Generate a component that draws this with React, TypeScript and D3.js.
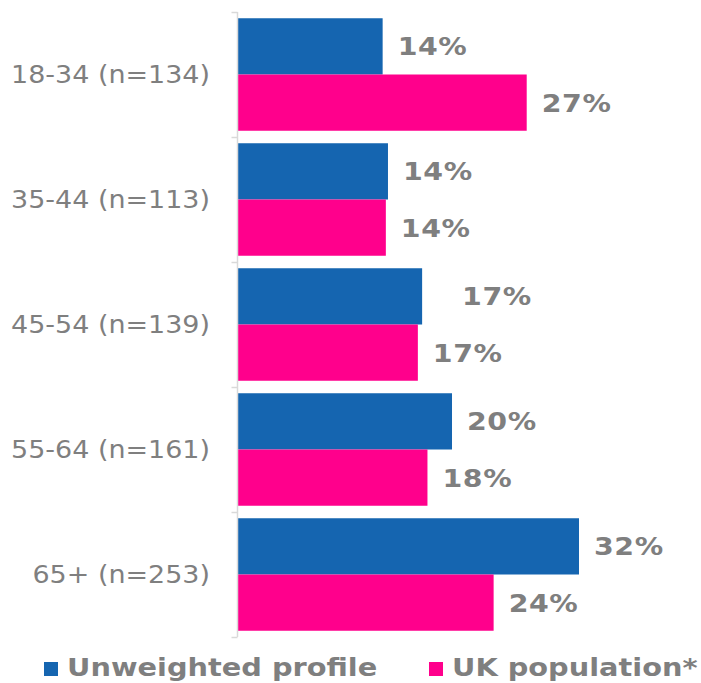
import { useEffect, useRef } from "react";
import * as d3 from "d3";

const CATEGORIES = ["18-34 (n=134)", "35-44 (n=113)", "45-54 (n=139)", "55-64 (n=161)", "65+ (n=253)"];
const SERIES = ["Unweighted profile", "UK population*"];
const UNWEIGHTED = [13.6, 14.1, 17.3, 20.1, 32.0];
const UK_POP = [27.1, 13.9, 16.9, 17.8, 24.0];

const COLORS = ["#1565B0", "#FF008C"];
const TEXT_GRAY = "#7f7f7f";
const AXIS_GRAY = "#d9d9d9";
const FONT = "'DejaVu Sans', sans-serif";

// Excel had one label dragged a bit further right
const LABEL_NUDGE: Record<string, number> = { "45-54 (n=139)|0": 25 };

const W = 701;
const H = 683;

export default function App() {
  const svgRef = useRef<SVGSVGElement>(null);

  useEffect(() => {
    const svg = d3.select(svgRef.current);
    svg.selectAll("*").remove();

    const axisX = 237.5;
    const x = d3.scaleLinear().domain([0, 32]).range([axisX, 579]);
    const y = d3
      .scaleBand<string>()
      .domain(CATEGORIES)
      .range([12, 637])
      .paddingInner(0.1)
      .paddingOuter(0.05);
    const sub = d3.scaleBand<number>().domain([0, 1]).range([0, y.bandwidth()]);

    const rows = CATEGORIES.flatMap((c, i) => [
      { cat: c, s: 0, v: UNWEIGHTED[i] },
      { cat: c, s: 1, v: UK_POP[i] },
    ]);

    // bars
    svg
      .append("g")
      .selectAll("rect")
      .data(rows)
      .join("rect")
      .attr("x", axisX)
      .attr("y", (d) => (y(d.cat) ?? 0) + (sub(d.s) ?? 0))
      .attr("width", (d) => x(d.v) - axisX)
      .attr("height", sub.bandwidth())
      .attr("fill", (d) => COLORS[d.s]);

    // value labels (verdana-ish width via a horizontal stretch)
    svg
      .append("g")
      .selectAll("text")
      .data(rows)
      .join("text")
      .attr("transform", (d) => {
        const tx = x(d.v) + 15 + (LABEL_NUDGE[`${d.cat}|${d.s}`] ?? 0);
        const ty = (y(d.cat) ?? 0) + (sub(d.s) ?? 0) + sub.bandwidth() / 2 + 9;
        return `translate(${tx},${ty}) scale(1.16,1)`;
      })
      .style("font-family", FONT)
      .attr("font-weight", "bold")
      .attr("font-size", 24.5)
      .attr("letter-spacing", 0.5)
      .attr("fill", TEXT_GRAY)
      .text((d) => `${Math.round(d.v)}%`);

    // category axis
    const ticks = [...CATEGORIES.map((c) => (y(c) ?? 0) - y.step() * 0.05), 637];
    const ax = svg.append("g");
    ax.append("line")
      .attr("x1", axisX)
      .attr("x2", axisX)
      .attr("y1", 12)
      .attr("y2", 637)
      .attr("stroke", AXIS_GRAY)
      .attr("stroke-width", 1.5);
    ax.selectAll("line.tick")
      .data(ticks)
      .join("line")
      .attr("class", "tick")
      .attr("x1", axisX - 6)
      .attr("x2", axisX)
      .attr("y1", (d) => Math.round(d) + 0.5)
      .attr("y2", (d) => Math.round(d) + 0.5)
      .attr("stroke", AXIS_GRAY)
      .attr("stroke-width", 1.5);
    ax.selectAll("text")
      .data(CATEGORIES)
      .join("text")
      .attr("transform", (d) => `translate(210,${(y(d) ?? 0) + y.bandwidth() / 2 + 8.5}) scale(1.1,1)`)
      .attr("text-anchor", "end")
      .style("font-family", FONT)
      .attr("font-size", 24.5)
      .attr("fill", TEXT_GRAY)
      .text((d) => d);

    // legend
    const legX = [44, 429];
    const leg = svg
      .append("g")
      .selectAll("g")
      .data(SERIES)
      .join("g")
      .attr("transform", (_, i) => `translate(${legX[i]},676)`);
    leg.append("rect")
      .attr("x", 0)
      .attr("y", -14)
      .attr("width", 14)
      .attr("height", 14)
      .attr("fill", (_, i) => COLORS[i]);
    leg.append("text")
      .attr("transform", "translate(23,0) scale(1.13,1)")
      .style("font-family", FONT)
      .attr("font-weight", "bold")
      .attr("font-size", 25.5)
      .attr("fill", TEXT_GRAY)
      .text((d) => d);
  }, []);

  return (
    <svg
      ref={svgRef}
      width={W}
      height={H}
      style={{ position: "absolute", left: 0, top: 0, background: "#fff" }}
    />
  );
}
